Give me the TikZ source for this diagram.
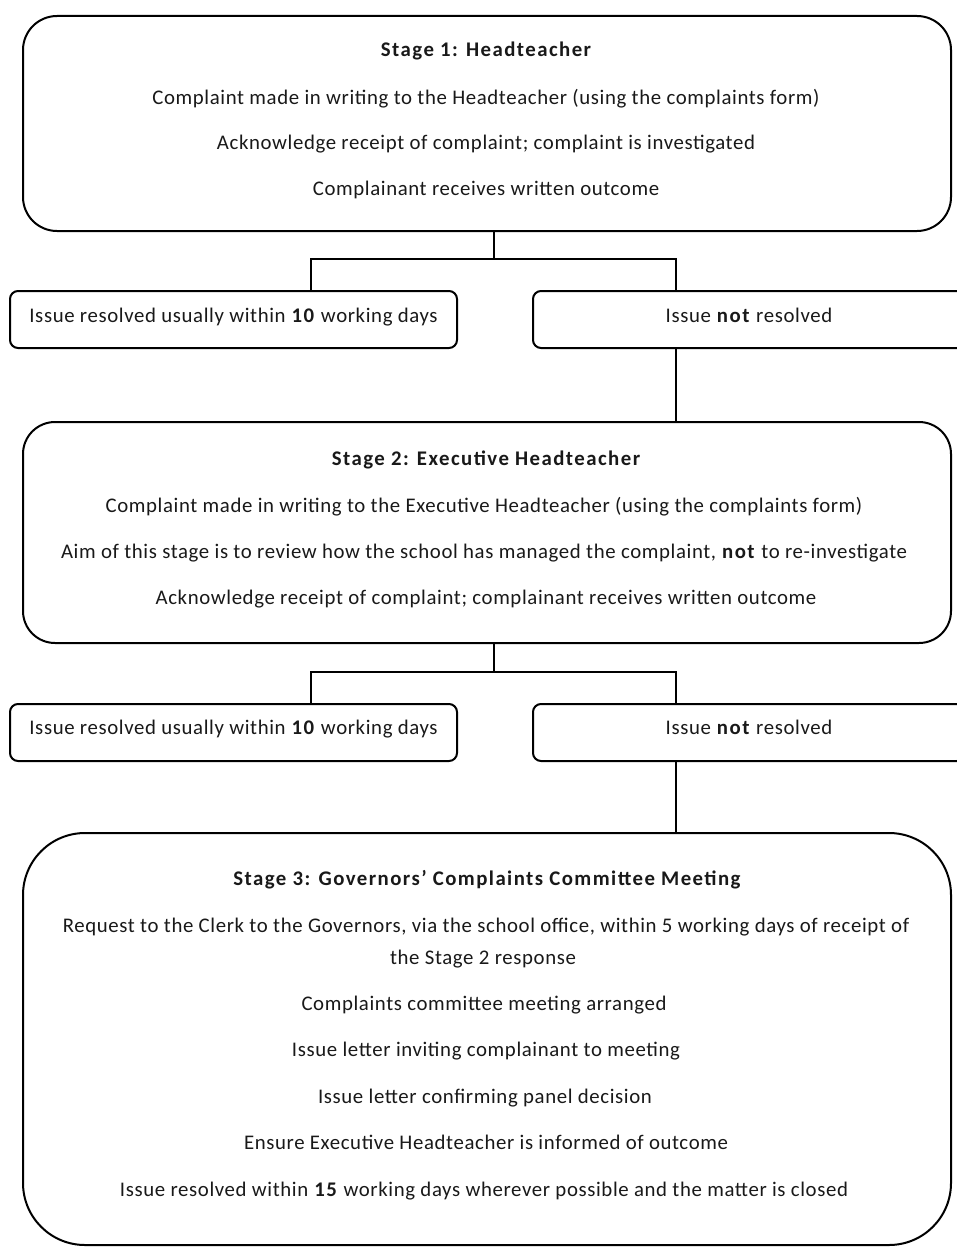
\documentclass[tikz,border=0pt]{standalone}
\usepackage{fontspec}
\setmainfont{Carlito}[LetterSpace=3,BoldFeatures={LetterSpace=7}]
\begin{document}
\begin{tikzpicture}[x=1pt,y=-1pt,
  bigbox/.style={draw=black,line width=2pt,rectangle,minimum width=928pt,inner sep=0pt},
  smallbox/.style={draw=black,line width=2pt,rectangle,rounded corners=8pt,minimum height=57pt,inner sep=0pt},
  txt/.style={anchor=base,inner sep=0pt,font=\fontsize{20.8}{24}\selectfont,text=black!90},
  ttl/.style={txt,font=\fontsize{20.8}{24}\selectfont\bfseries},
  conn/.style={draw=black,line width=2pt}]
\useasboundingbox (0,0) rectangle (957,1247);
\clip (0,0) rectangle (957,1247);
\fill[white] (0,0) rectangle (957,1247);

% Stage 1
\node[bigbox,rounded corners=34pt,minimum height=215pt] (b1) at (487,123.5) {};
\node[ttl] (t1) at (486,56.5) {Stage 1: Headteacher};
\node[txt] (t1a) at (486,104.5) {Complaint made in writing to the Headteacher (using the complaints form)};
\node[txt] (t1b) at (486,149.5) {Acknowledge receipt of complaint; complaint is investigated};
\node[txt] (t1c) at (486,195.5) {Complainant receives written outcome};

\node[smallbox,minimum width=447pt] (r1) at (233.5,319.5) {};
\node[txt] (r1t) at (233.5,322.5) {Issue resolved usually within \textbf{10} working days};
\node[smallbox,minimum width=432pt] (n1) at (749,319.5) {};
\node[txt] (n1t) at (749,322.5) {Issue \textbf{not} resolved};

% Stage 2
\node[bigbox,rounded corners=32pt,minimum height=221pt] (b2) at (487,532.5) {};
\node[ttl] (t2) at (486,465.5) {Stage 2: Executive Headteacher};
\node[txt] (t2a) at (484,512.5) {Complaint made in writing to the Executive Headteacher (using the complaints form)};
\node[txt] (t2b) at (484,558.5) {Aim of this stage is to review how the school has managed the complaint, \textbf{not} to re-investigate};
\node[txt] (t2c) at (486,604.5) {Acknowledge receipt of complaint; complainant receives written outcome};

\node[smallbox,minimum width=447pt] (r2) at (233.5,732.5) {};
\node[txt] (r2t) at (233.5,734.5) {Issue resolved usually within \textbf{10} working days};
\node[smallbox,minimum width=432pt] (n2) at (749,732.5) {};
\node[txt] (n2t) at (749,734.5) {Issue \textbf{not} resolved};

% Stage 3
\node[bigbox,rounded corners=62pt,minimum height=412pt] (b3) at (487,1039) {};
\node[ttl] (t3) at (487,885.5) {Stage 3: Governors' Complaints Committee Meeting};
\node[txt] (t3a) at (486,932.5) {Request to the Clerk to the Governors, via the school office, within 5 working days of receipt of};
\node[txt] (t3b) at (483,964.5) {the Stage 2 response};
\node[txt] (t3c) at (484,1010.5) {Complaints committee meeting arranged};
\node[txt] (t3d) at (486,1056.5) {Issue letter inviting complainant to meeting};
\node[txt] (t3e) at (485,1103.5) {Issue letter confirming panel decision};
\node[txt] (t3f) at (486,1149.5) {Ensure Executive Headteacher is informed of outcome};
\node[txt] (t3g) at (484,1196.5) {Issue resolved within \textbf{15} working days wherever possible and the matter is closed};

% connectors
\coordinate (j1) at (494,259);
\coordinate (j2) at (494,672);
\coordinate (xl) at (311,0);
\coordinate (xr) at (676,0);
\draw[conn] (b1.south -| j1) -- (j1);
\draw[conn] (r1.north -| xl) |- (j1) -| (n1.north -| xr);
\draw[conn] (n1.south -| xr) -- (b2.north -| xr);
\draw[conn] (b2.south -| j2) -- (j2);
\draw[conn] (r2.north -| xl) |- (j2) -| (n2.north -| xr);
\draw[conn] (n2.south -| xr) -- (b3.north -| xr);
\end{tikzpicture}
\end{document}
